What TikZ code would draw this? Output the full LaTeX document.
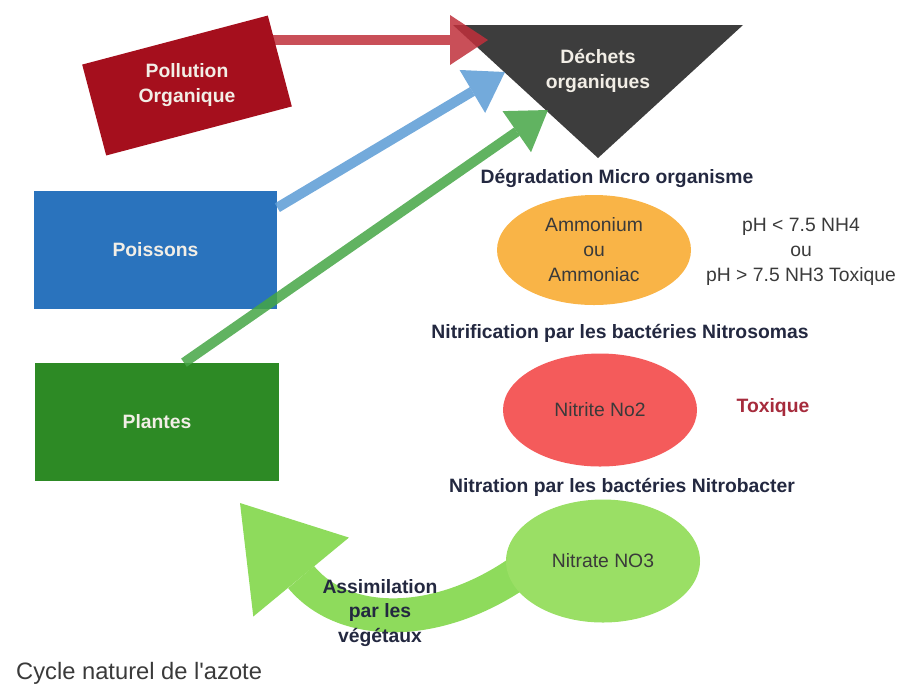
\documentclass[tikz,border=0pt]{standalone}
\usepackage{fontspec}
\setmainfont{Liberation Sans}
\usepackage{xcolor}
\usepackage{tikz}
\usetikzlibrary{calc,arrows.meta,positioning,shapes.geometric}
\definecolor{pollc}{HTML}{A50F1D}
\definecolor{redar}{HTML}{C0303B}
\definecolor{dechc}{HTML}{3D3D3D}
\definecolor{poisc}{HTML}{2A73BD}
\definecolor{bluar}{HTML}{5B9BD5}
\definecolor{plantc}{HTML}{2D8A25}
\definecolor{grnar}{HTML}{45A645}
\definecolor{ammc}{HTML}{F9B447}
\definecolor{nitric}{HTML}{F45B5B}
\definecolor{nitrac}{HTML}{9ADF65}
\definecolor{assimc}{HTML}{8EDB5C}
\definecolor{inkc}{HTML}{232840}
\definecolor{greyc}{HTML}{3A3A3A}
\definecolor{toxc}{HTML}{A62B3C}
\definecolor{lightc}{HTML}{F2EEE6}
\tikzset{
  blk/.style={rectangle,inner sep=0pt,minimum width=48.6mm,minimum height=23.6mm},
  ov/.style={ellipse,inner sep=0pt,minimum width=38.8mm,minimum height=22mm},
  ar/.style={-{Triangle[length=7.6mm,width=10mm,line width=0pt]},line width=2mm,opacity=0.85},
  wt/.style={font=\bfseries\fontsize{11}{14.2}\selectfont,text=lightc,align=center},
  tx/.style={font=\bfseries\fontsize{11}{14.2}\selectfont,text=inkc,align=center},
  rg/.style={font=\fontsize{11}{14.2}\selectfont,text=greyc,align=center}
}

\begin{document}
\begin{tikzpicture}[x=0.2mm,y=-0.2mm]
\useasboundingbox (0,0) rectangle (898,686);
% dechets
\fill[dechc] (453,25) -- (743,25) -- (598,158) -- cycle;
\node[wt] (dechets) at (598,71) {Déchets\\organiques};
\coordinate (redstart) at (270,40); \coordinate (redtip) at (488,40);
\coordinate (blutip) at (505,72); \coordinate (grntip) at (548,110);
% sources
\draw[ar,redar] (redstart) -- (redtip);
\node[blk,fill=pollc,rotate=14.8,minimum width=38.4mm,minimum height=18.8mm] (pollution) at (187,85.5) {};
\node[wt] (polltxt) at (187,85) {Pollution\\Organique};
\node[blk,fill=poisc,wt] (poissons) at (155.5,250) {Poissons};
\node[blk,fill=plantc,wt] (plantes) at (157,422) {Plantes};
\draw[ar,bluar] ([yshift=-3.4mm]poissons.north east) -- (blutip);
\draw[ar,grnar] ([xshift=5.4mm]plantes.north) -- (grntip);
% cycle
\node[tx] (degrad) at (617,178) {Dégradation Micro organisme};
\node[ov,fill=ammc,rg] (ammonium) at (594,250) {Ammonium\\ou\\Ammoniac};
\node[rg] (ph) at (801,252) {pH < 7.5 NH4\\ou\\pH > 7.5 NH3 Toxique};
\node[tx] (nitrif) at (620,333) {Nitrification par les bactéries Nitrosomas};
\node[ov,fill=nitric,rg,minimum height=22.6mm] (nitrite) at (600,410) {Nitrite No2};
\node[tx,text=toxc] (toxique) at (773,407) {Toxique};
\node[tx] (nitrat) at (622,487) {Nitration par les bactéries Nitrobacter};
\coordinate (nitstart) at (525,568); \coordinate (assimtip) at (240,503);
\draw[assimc,line width=6.8mm,-{Triangle[length=19.2mm,width=24.8mm,line width=0pt]}] (nitstart) .. controls (440,630) and (344,629) .. (assimtip);
\node[ov,fill=nitrac,rg,minimum height=24.6mm] (nitrate) at (603,561) {Nitrate NO3};
\node[tx] (assim) at (380,613) {Assimilation\\par les\\végétaux};
\node[rg,font=\fontsize{13.5}{16}\selectfont,anchor=base west] (titre) at (10,679) {Cycle naturel de l\textquotesingle azote};
\end{tikzpicture}
\end{document}
